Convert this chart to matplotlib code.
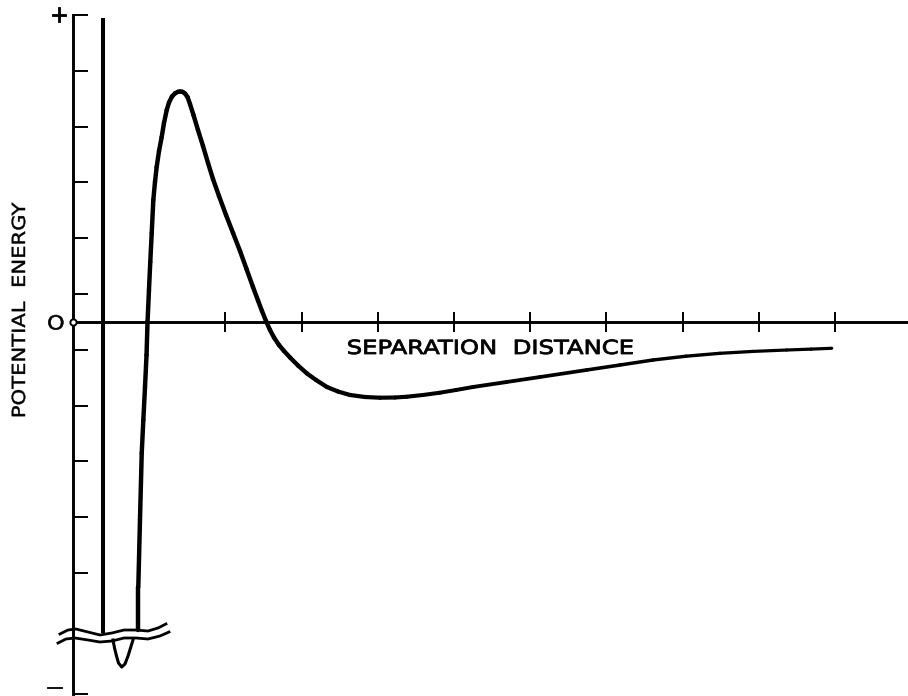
import matplotlib
matplotlib.use('Agg')
import matplotlib.pyplot as plt
import numpy as np
from matplotlib import patheffects
from matplotlib.collections import LineCollection
from matplotlib.transforms import Affine2D

plt.rcParams['font.family'] = ['DejaVu Sans']

# 势能曲线 (横轴: 间距刻度单位, 纵轴: 能量刻度单位)
curve_x = [0.857, 0.857, 0.879, 0.902, 0.923, 0.945, 0.965, 0.978, 0.997, 1.014,
           1.033, 1.054, 1.076, 1.098, 1.129, 1.164, 1.194, 1.230, 1.260, 1.299,
           1.339, 1.378, 1.404, 1.437, 1.470, 1.503, 1.535, 1.581, 1.640, 1.706,
           1.772, 1.837, 1.916, 2.008, 2.100, 2.192, 2.277, 2.362, 2.428, 2.480,
           2.533, 2.585, 2.638, 2.703, 2.769, 2.848, 2.953, 3.071, 3.189,
           3.333, 3.478, 3.635, 3.832, 4.029, 4.226, 4.383, 4.593, 4.816, 5.026,
           5.249, 5.692, 6.129, 6.741, 7.178, 7.612, 8.045, 8.491, 8.924, 9.366,
           9.685, 9.957]
curve_y = [-5.520, -4.749, -3.548, -2.348, -1.756, -1.165, -0.591, 0.0, 0.573, 1.075,
           1.595, 2.186, 2.509, 2.778, 3.065, 3.315, 3.566, 3.799, 3.934, 4.041,
           4.099, 4.125, 4.131, 4.125, 4.095, 4.032, 3.907, 3.710, 3.441, 3.154,
           2.849, 2.563, 2.258, 1.918, 1.595, 1.272, 0.950, 0.627, 0.385, 0.197,
           0.018, -0.143, -0.278, -0.412, -0.520, -0.636, -0.780, -0.923, -1.039,
           -1.165, -1.246, -1.308, -1.344, -1.357, -1.353, -1.339, -1.308, -1.267, -1.219,
           -1.165, -1.075, -0.986, -0.860, -0.771, -0.681, -0.613, -0.561, -0.527, -0.502,
           -0.486, -0.471]

# 断轴下方的深势阱
well_x = [0.525, 0.545, 0.571, 0.597, 0.639, 0.682, 0.722, 0.755, 0.787]
well_y = [-5.699, -5.842, -5.986, -6.111, -6.183, -6.129, -5.986, -5.842, -5.699]

# 排斥壁
wall_x = [0.394, 0.394]
wall_y = [5.45, -5.57]

# 断轴波浪线
break_upper_x = [-0.171, -0.066, 0.039, 0.197, 0.354, 0.512, 0.669, 0.827, 0.984, 1.115, 1.220]
break_upper_y = [-5.591, -5.520, -5.502, -5.556, -5.609, -5.573, -5.520, -5.520, -5.538, -5.484, -5.412]
break_lower_x = [-0.197, -0.092, 0.026, 0.197, 0.354, 0.512, 0.669, 0.827, 0.984, 1.142, 1.260]
break_lower_y = [-5.753, -5.681, -5.663, -5.699, -5.735, -5.717, -5.663, -5.663, -5.681, -5.627, -5.556]

x_ticks = [2, 3, 4, 5, 6, 7, 8, 9, 10]
y_ticks = [5.5, 4.5, 3.5, 2.5, 1.5, 0.5, -0.5, -1.5, -2.5, -3.5, -4.5, -6.67]
y_top, y_bottom = 5.5, -6.67


class WideLetters(patheffects.AbstractPathEffect):
    """把字形沿书写方向拉宽, 并稍微加粗笔画"""

    def __init__(self, sx=1.2, weight=0.5):
        super().__init__()
        self._sx = sx
        self._weight = weight

    def draw_path(self, renderer, gc, tpath, affine, rgbFace=None):
        gc0 = renderer.new_gc()
        gc0.copy_properties(gc)
        gc0.set_linewidth(self._weight)
        gc0.set_foreground(rgbFace)
        renderer.draw_path(gc0, tpath, Affine2D().scale(self._sx, 1) + affine, rgbFace)
        gc0.restore()


fig = plt.figure(figsize=(9.08, 6.96), dpi=100)
ax = fig.add_axes([0, 0, 1, 1])
ax.set_xlim(-73 / 76.2, 835 / 76.2)
ax.set_ylim(-374 / 55.8, 322 / 55.8)

# 坐标轴
for side in ['top', 'right']:
    ax.spines[side].set_visible(False)
ax.spines['left'].set_position(('data', 0))
ax.spines['bottom'].set_position(('data', 0))
ax.spines['left'].set_bounds(y_bottom, y_top)
ax.spines['bottom'].set_bounds(0, 835 / 76.2)
ax.spines['left'].set_linewidth(2.1)
ax.spines['bottom'].set_linewidth(2.1)
ax.set_xticks(x_ticks)
ax.set_yticks(y_ticks)
ax.set_xticklabels([])
ax.set_yticklabels([])
ax.tick_params(axis='x', direction='inout', length=14.5, width=1.4)
ax.tick_params(axis='y', direction='in', length=11, width=1.4)

# 曲线: 手绘线条左粗右细
pts = np.column_stack([curve_x, curve_y])
segs = np.stack([pts[:-1], pts[1:]], axis=1)
mid_x = (pts[:-1, 0] + pts[1:, 0]) / 2
widths = np.interp(mid_x, [2.5, 9.0], [3.2, 2.3])
lc = LineCollection(segs, colors='black', linewidths=widths, capstyle='round', joinstyle='round')
ax.add_collection(lc)

ax.plot(wall_x, wall_y, color='black', lw=2.9, solid_capstyle='butt')
ax.plot(well_x, well_y, color='black', lw=2.2, solid_joinstyle='round')
ax.plot(break_upper_x, break_upper_y, color='black', lw=2.0, solid_joinstyle='round')
ax.plot(break_lower_x, break_lower_y, color='black', lw=2.0, solid_joinstyle='round')

# 原点小圆圈
ax.plot([0], [0], marker='o', ms=4.5, mfc='white', mec='black', mew=1.4, zorder=5, clip_on=False)

# 文字
ax.text(-0.341, -0.134, 'O', fontsize=14, ha='left', va='baseline',
        path_effects=[WideLetters(1.15, 0.4)])
ax.text(-0.185, 5.50, '+', fontsize=17, ha='center', va='center',
        path_effects=[WideLetters(1.0, 0.6)])
ax.text(-0.262, -6.56, '\u2212', fontsize=14, ha='center', va='center',
        path_effects=[WideLetters(1.2, 0.6)])
ax.text(3.592, -0.573, 'SEPARATION  DISTANCE', fontsize=14, ha='left', va='baseline',
        path_effects=[WideLetters(1.25, 0.6)])
ax.text(-0.630, -1.724, 'POTENTIAL  ENERGY', fontsize=13, rotation=90,
        rotation_mode='anchor', ha='left', va='baseline',
        path_effects=[WideLetters(1.17, 0.3)])

fig.savefig('out.png', dpi=100)
plt.close(fig)
